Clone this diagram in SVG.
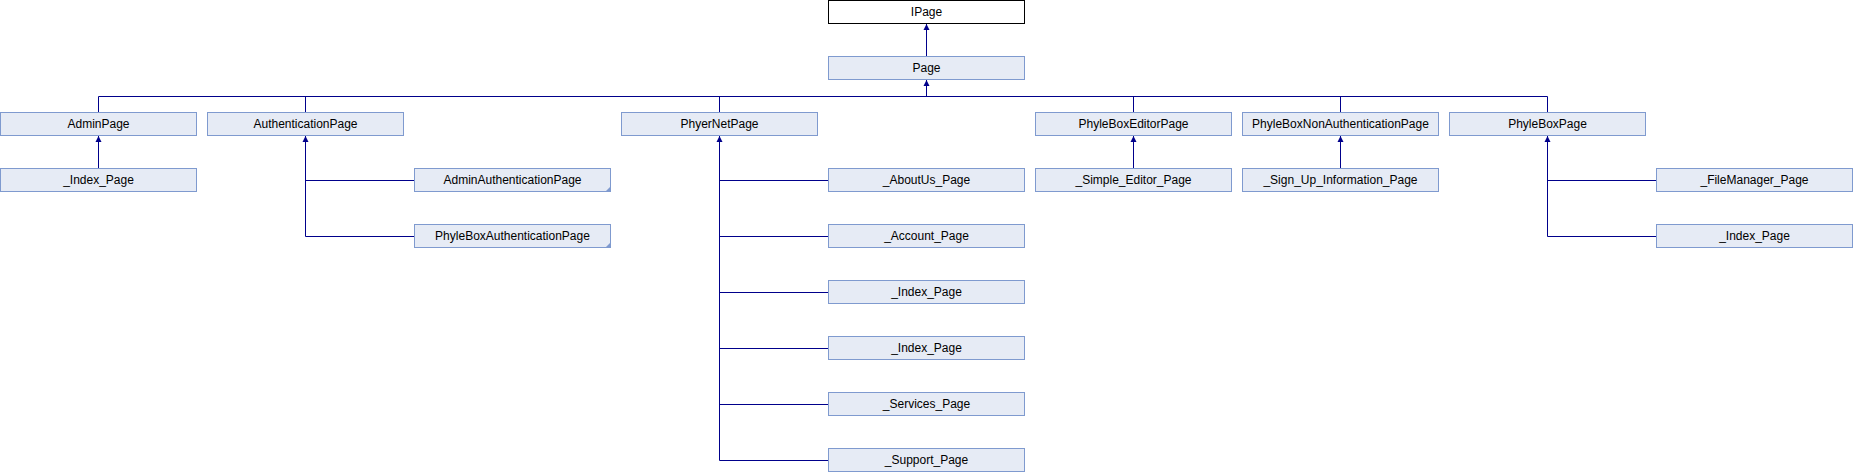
<svg xmlns="http://www.w3.org/2000/svg" width="1853" height="472" viewBox="0 0 1853 472">
<style>
.b{fill:#e6ebf5;stroke:#7f9acf;stroke-width:1}
.r{fill:#ffffff;stroke:#000000;stroke-width:1}
.t{font-family:"Liberation Sans",Arial,sans-serif;font-size:12px;fill:#000000;text-anchor:middle}
.c{fill:none;stroke:#00008b;stroke-width:1}
.a{fill:#00008b;stroke:none}
.k{fill:#7f9acf}
</style>
<defs>
<polygon id="arr" points="0,0 -3,6 3,6"/>
</defs>
<g id="connectors">
<path class="c" d="M926.5,24 V56 M926.5,80 V96.5 M98.5,96.5 H1547.5 M98.5,96.5 V112 M305.5,96.5 V112 M719.5,96.5 V112 M1133.5,96.5 V112 M1340.5,96.5 V112 M1547.5,96.5 V112"/>
<path class="c" d="M98.5,136 V168 M1133.5,136 V168 M1340.5,136 V168"/>
<path class="c" d="M305.5,136 V236.5 H414 M305.5,180.5 H414"/>
<path class="c" d="M719.5,136 V460.5 H828 M719.5,180.5 H828 M719.5,236.5 H828 M719.5,292.5 H828 M719.5,348.5 H828 M719.5,404.5 H828"/>
<path class="c" d="M1547.5,136 V236.5 H1656 M1547.5,180.5 H1656"/>
<use href="#arr" class="a" x="926.5" y="24"/>
<use href="#arr" class="a" x="926.5" y="80"/>
<use href="#arr" class="a" x="98.5" y="136"/>
<use href="#arr" class="a" x="305.5" y="136"/>
<use href="#arr" class="a" x="719.5" y="136"/>
<use href="#arr" class="a" x="1133.5" y="136"/>
<use href="#arr" class="a" x="1340.5" y="136"/>
<use href="#arr" class="a" x="1547.5" y="136"/>
</g>
<g id="IPage"><rect class="r" x="828.5" y="0.5" width="196" height="23"/><text class="t" x="926.5" y="16">IPage</text></g>
<g id="Page"><rect class="b" x="828.5" y="56.5" width="196" height="23"/><text class="t" x="926.5" y="72">Page</text></g>
<g id="AdminPage"><rect class="b" x="0.5" y="112.5" width="196" height="23"/><text class="t" x="98.5" y="128">AdminPage</text></g>
<g id="AuthenticationPage"><rect class="b" x="207.5" y="112.5" width="196" height="23"/><text class="t" x="305.5" y="128">AuthenticationPage</text></g>
<g id="PhyerNetPage"><rect class="b" x="621.5" y="112.5" width="196" height="23"/><text class="t" x="719.5" y="128">PhyerNetPage</text></g>
<g id="PhyleBoxEditorPage"><rect class="b" x="1035.5" y="112.5" width="196" height="23"/><text class="t" x="1133.5" y="128">PhyleBoxEditorPage</text></g>
<g id="PhyleBoxNonAuthenticationPage"><rect class="b" x="1242.5" y="112.5" width="196" height="23"/><text class="t" x="1340.5" y="128">PhyleBoxNonAuthenticationPage</text></g>
<g id="PhyleBoxPage"><rect class="b" x="1449.5" y="112.5" width="196" height="23"/><text class="t" x="1547.5" y="128">PhyleBoxPage</text></g>
<g id="Admin_Index_Page"><rect class="b" x="0.5" y="168.5" width="196" height="23"/><text class="t" x="98.5" y="184">_Index_Page</text></g>
<g id="AdminAuthenticationPage"><rect class="b" x="414.5" y="168.5" width="196" height="23"/><text class="t" x="512.5" y="184">AdminAuthenticationPage</text><polygon class="k" points="611,186 611,192 605,192"/></g>
<g id="PhyleBoxAuthenticationPage"><rect class="b" x="414.5" y="224.5" width="196" height="23"/><text class="t" x="512.5" y="240">PhyleBoxAuthenticationPage</text><polygon class="k" points="611,242 611,248 605,248"/></g>
<g id="AboutUs_Page"><rect class="b" x="828.5" y="168.5" width="196" height="23"/><text class="t" x="926.5" y="184">_AboutUs_Page</text></g>
<g id="Account_Page"><rect class="b" x="828.5" y="224.5" width="196" height="23"/><text class="t" x="926.5" y="240">_Account_Page</text></g>
<g id="Net_Index_Page1"><rect class="b" x="828.5" y="280.5" width="196" height="23"/><text class="t" x="926.5" y="296">_Index_Page</text></g>
<g id="Net_Index_Page2"><rect class="b" x="828.5" y="336.5" width="196" height="23"/><text class="t" x="926.5" y="352">_Index_Page</text></g>
<g id="Services_Page"><rect class="b" x="828.5" y="392.5" width="196" height="23"/><text class="t" x="926.5" y="408">_Services_Page</text></g>
<g id="Support_Page"><rect class="b" x="828.5" y="448.5" width="196" height="23"/><text class="t" x="926.5" y="464">_Support_Page</text></g>
<g id="Simple_Editor_Page"><rect class="b" x="1035.5" y="168.5" width="196" height="23"/><text class="t" x="1133.5" y="184">_Simple_Editor_Page</text></g>
<g id="Sign_Up_Information_Page"><rect class="b" x="1242.5" y="168.5" width="196" height="23"/><text class="t" x="1340.5" y="184">_Sign_Up_Information_Page</text></g>
<g id="FileManager_Page"><rect class="b" x="1656.5" y="168.5" width="196" height="23"/><text class="t" x="1754.5" y="184">_FileManager_Page</text></g>
<g id="Box_Index_Page"><rect class="b" x="1656.5" y="224.5" width="196" height="23"/><text class="t" x="1754.5" y="240">_Index_Page</text></g>
</svg>
